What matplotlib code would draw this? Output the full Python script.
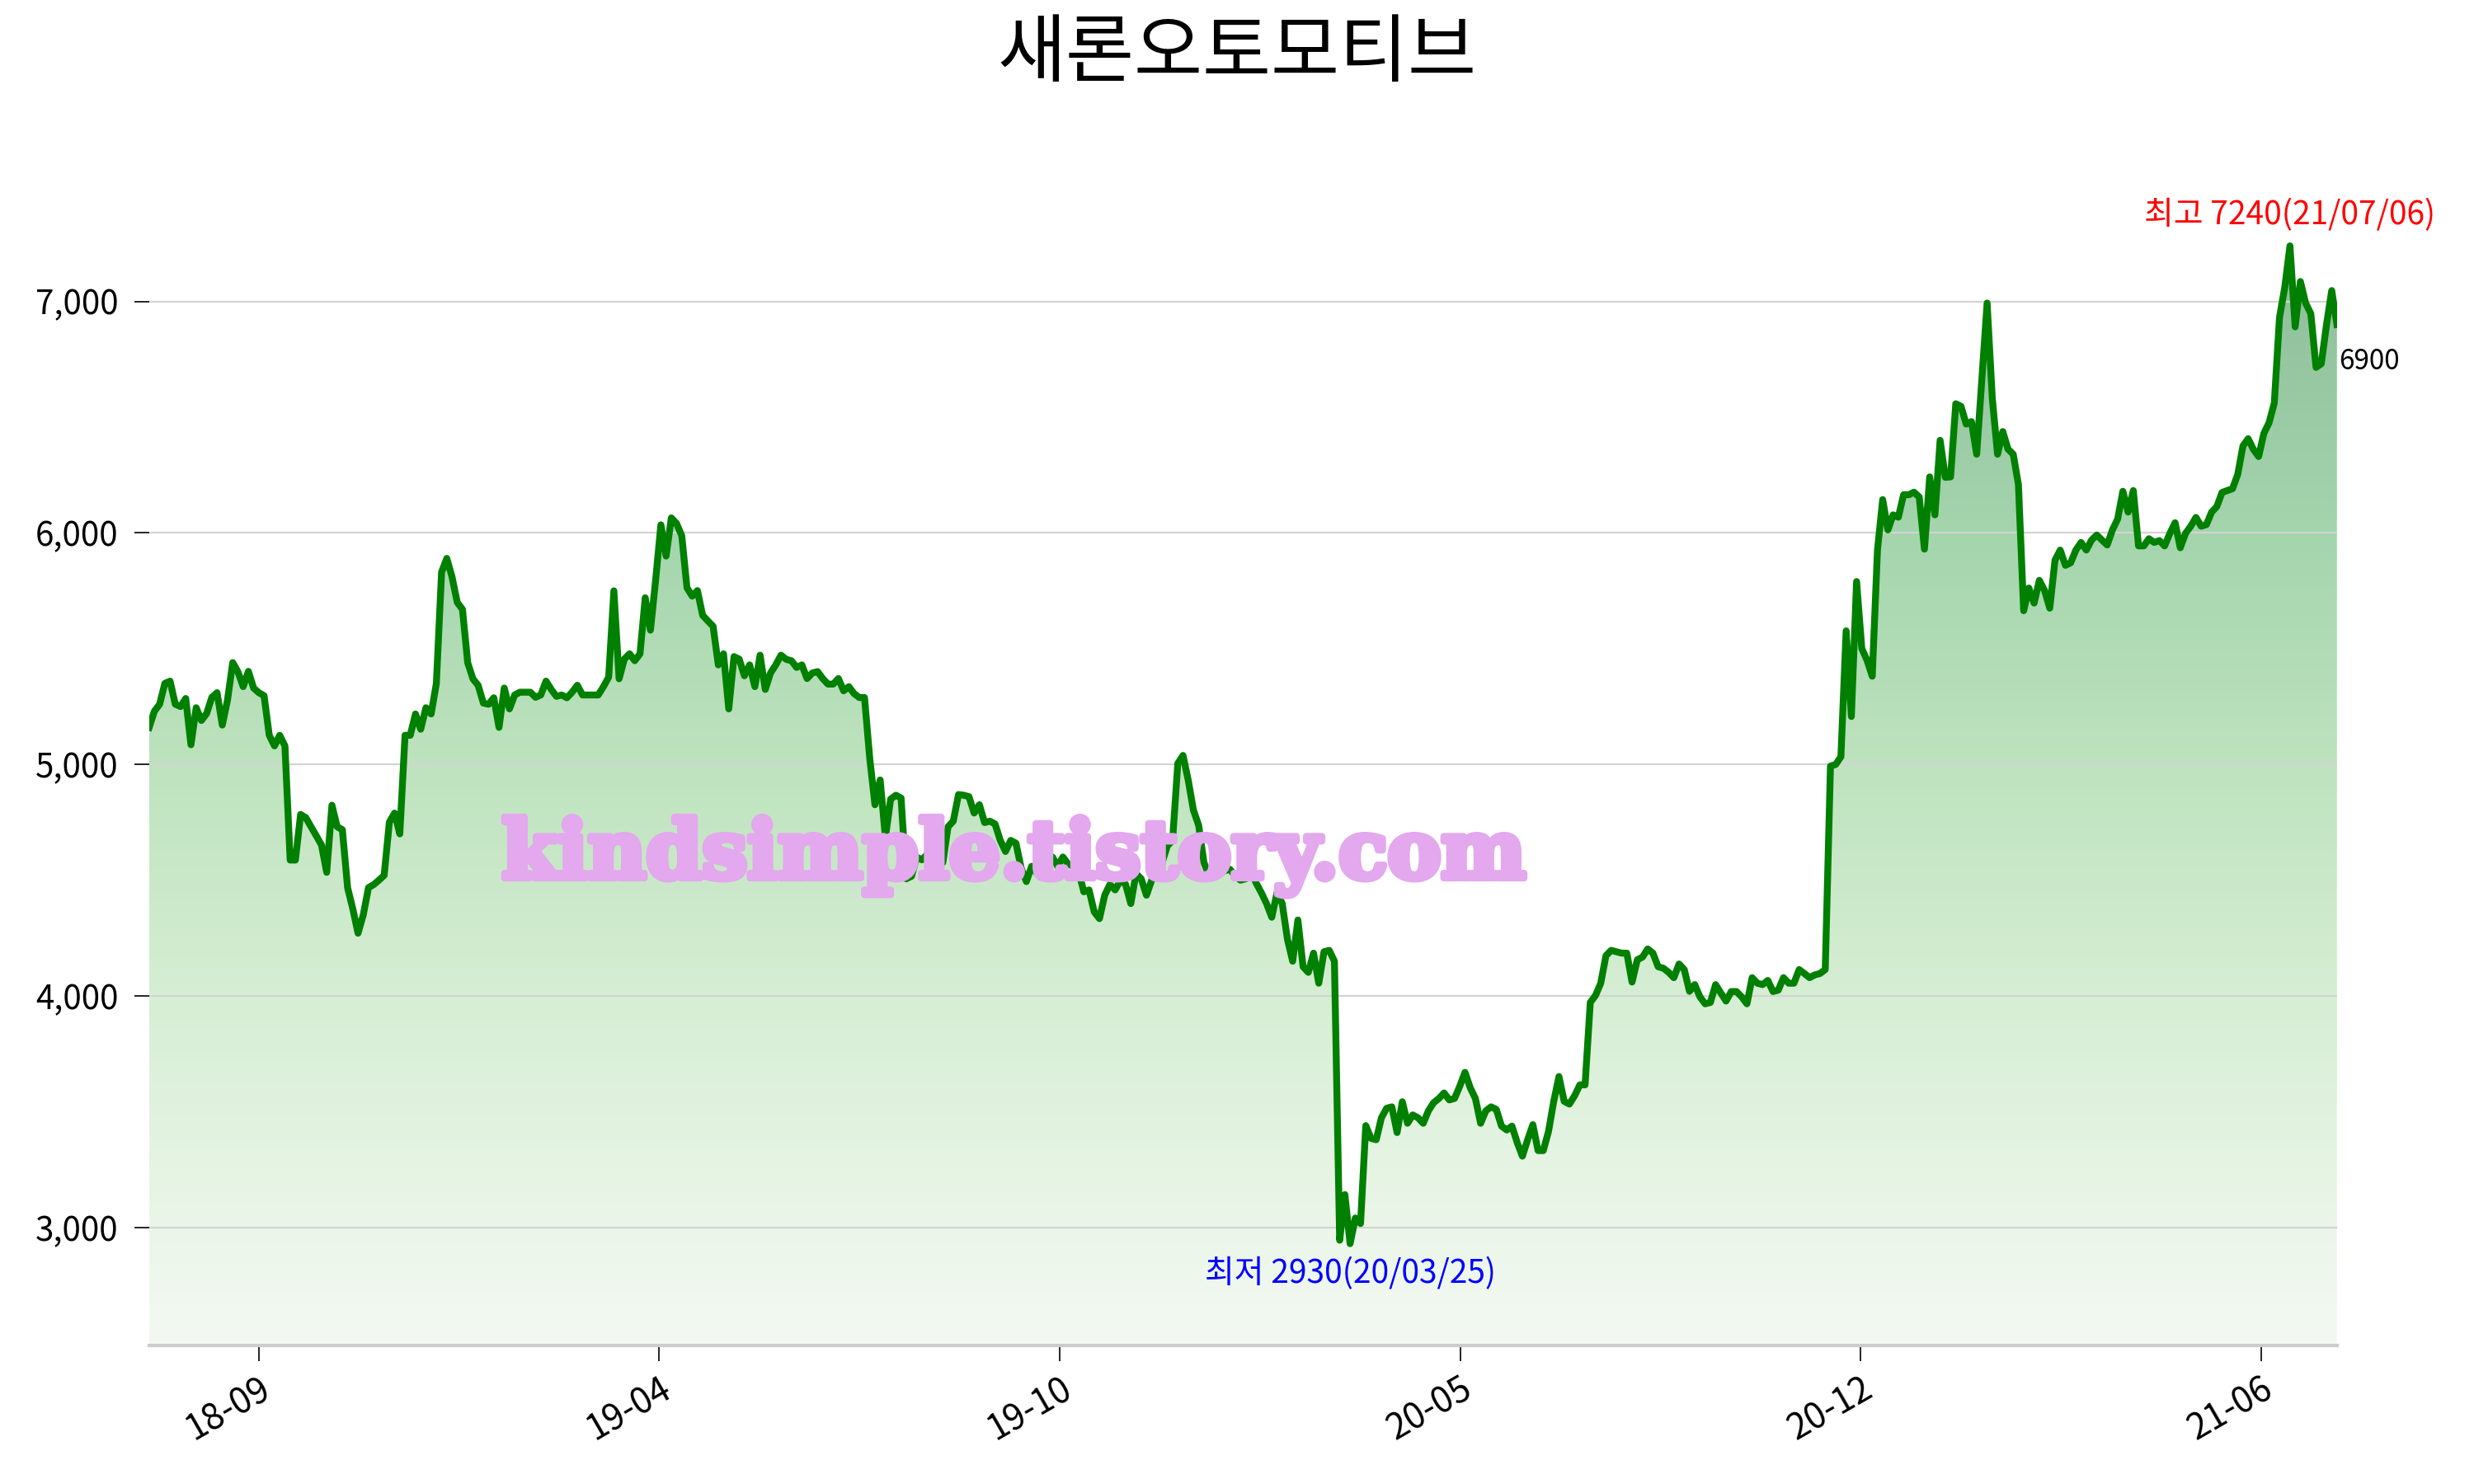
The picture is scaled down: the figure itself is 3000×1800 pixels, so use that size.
#Imports
import numpy as np
import matplotlib.pyplot as plt
import matplotlib.patheffects as pe
from matplotlib.colors import LinearSegmentedColormap
from matplotlib.patches import Polygon
from matplotlib.ticker import FuncFormatter

plt.rcParams['font.family'] = ['Noto Sans CJK KR', 'DejaVu Sans']

#Data (closing prices, roughly every other trading day)
title = '새론오토모티브'
close = [
    #2018-07 .. 2018-12
    5160, 5230, 5260, 5350, 5360, 5260, 5250, 5285, 5085, 5245, 5190, 5220, 5290, 5310, 5170,
    5278, 5440, 5400, 5336, 5402, 5330, 5310, 5297, 5126, 5080, 5126, 5080, 4587, 4587, 4784,
    4770, 4731, 4692, 4652, 4534, 4824, 4731, 4718, 4468, 4376, 4271, 4350, 4468, 4481, 4500,
    4521, 4751, 4790, 4700, 5126, 5126, 5218, 5152, 5245, 5218, 5350, 5830, 5890, 5810,
    #2019-01 .. 2019-06
    5700, 5670, 5440, 5370, 5342, 5265, 5260, 5288, 5160, 5330, 5240, 5300, 5312, 5312, 5312,
    5290, 5300, 5360, 5324, 5294, 5300, 5288, 5312, 5342, 5300, 5300, 5300, 5300, 5336, 5377,
    5750, 5370, 5455, 5478, 5448, 5478, 5720, 5580, 5798, 6035, 5900, 6065, 6041, 5988, 5763,
    5727, 5751, 5644, 5620, 5597, 5430, 5478, 5240, 5466, 5455,
    5383, 5430, 5336, 5472, 5324, 5395, 5430, 5472, 5454, 5448, 5419, 5430, 5371, 5395, 5401,
    5371, 5347, 5347, 5371, 5318, 5336, 5306, 5289, 5289, 5027, 4826, 4933, 4684, 4850, 4867,
    4855, 4506, 4517, 4600, 4588, 4612, 4624, 4600, 4576, 4731, 4755, 4870, 4867, 4861, 4790,
    4826, 4749, 4755, 4743, 4672, 4624, 4672, 4660, 4553, 4494,
    #2019-10 .. 2020-03
    4560, 4530, 4560, 4600, 4600, 4560, 4600, 4570, 4560, 4540, 4450, 4458, 4363, 4334, 4435,
    4482, 4458, 4500, 4482, 4399, 4529, 4506, 4435, 4500, 4553, 4577, 4648, 4672, 5004, 5039,
    4932, 4802, 4737, 4577, 4518, 4518, 4530, 4541, 4547, 4517, 4500, 4506, 4541, 4488, 4446,
    4399, 4340, 4446, 4399, 4245, 4150, 4328, 4126, 4102, 4185, 4055,
    4191, 4197, 4150, 2945, 3142, 2930, 3041, 3017, 3440, 3385, 3379, 3474, 3515, 3521, 3410,
    3543, 3450, 3486, 3474, 3450, 3504, 3539, 3557, 3581, 3551, 3557, 3610, 3670, 3604, 3557,
    3450, 3504, 3521, 3510, 3438, 3421, 3438, 3367, 3308, 3379, 3444, 3332, 3332, 3415, 3545,
    3652, 3545, 3533, 3569, 3616, 3616, 3972, 4002, 4055, 4174,
    #2020-07 .. 2020-11
    4197, 4191, 4185, 4185, 4060, 4156, 4168, 4203, 4185, 4126, 4120, 4102, 4079, 4138, 4114,
    4020, 4049, 3996, 3966, 3972, 4049, 4013, 3978, 4019, 4019, 3996, 3966, 4079, 4055, 4049,
    4067, 4019, 4025, 4079, 4055, 4055, 4114, 4097, 4079, 4091, 4097, 4114,
    #2020-11 .. 2021-03
    4993, 5000, 5033, 5577, 5207, 5790, 5501, 5450, 5381, 5926, 6144, 6013, 6078, 6068, 6165,
    6165, 6176, 6155, 5930, 6242, 6078, 6400, 6240, 6242, 6558, 6547, 6470, 6481, 6340, 6667,
    6993, 6580, 6340, 6438, 6362, 6340, 6209, 5664, 5762, 5697, 5795, 5752, 5675, 5882, 5926,
    5860, 5871, 5926, 5959, 5926, 5969, 5991, 5969, 5948, 6013, 6060,
    #2021-04 .. 2021-07
    6180, 6090, 6183, 5944, 5944, 5975, 5959, 5967, 5944, 5998, 6044, 5936, 5998, 6029, 6067,
    6029, 6036, 6090, 6114, 6175, 6183, 6191, 6253, 6376, 6407, 6361, 6330, 6430, 6476, 6561,
    6931, 7060, 7240, 6890, 7086, 6993, 6947, 6715, 6731, 6900, 7047, 6900,
]
high_date = '21/07/06'
low_date = '20/03/25'
tick_labels = ['18-09', '19-04', '19-10', '20-05', '20-12', '21-06']
watermark = 'kindsimple.tistory.com'

close = np.array(close, dtype=float)
n = len(close)
x = np.arange(n)
ybot = 2490
ytop = 7602

fig = plt.figure(figsize=(15, 9), dpi=200)
ax = fig.add_axes([0.0603, 0.0933, 0.8843, 0.7975])

#Gradient fill under the line
gmax = close.max()
stops = [(2490, '#f3f9f2'), (3000, '#ebf6e9'), (4000, '#d6eed4'),
         (5000, '#bee3be'), (6000, '#a4d5ad'), (7240, '#8cbd99')]
cmap = LinearSegmentedColormap.from_list('fillg', [((v - ybot) / (gmax - ybot), c) for v, c in stops])
grad = np.linspace(0, 1, 512).reshape(-1, 1)
img = ax.imshow(grad, extent=[0, n - 1, ybot, gmax], origin='lower', aspect='auto',
                cmap=cmap, zorder=1, interpolation='bilinear')
verts = np.vstack([[0, ybot], np.column_stack([x, close]), [n - 1, ybot]])
patch = Polygon(verts, closed=True, facecolor='none', edgecolor='none')
ax.add_patch(patch)
img.set_clip_path(patch)

#Line
ax.plot(x, close, color='#008000', lw=3, zorder=3)

ax.set_xlim(0, n - 1)
ax.set_ylim(ybot, ytop)

#Axes styling
ax.set_yticks([3000, 4000, 5000, 6000, 7000])
ax.yaxis.set_major_formatter(FuncFormatter(lambda v, p: '{:,.0f}'.format(v)))
ax.yaxis.grid(True, color='#d3d3d3', lw=0.8)
ax.set_xticks(21 + 76.7 * np.arange(len(tick_labels)))
ax.set_xticklabels(tick_labels, rotation=30, ha='right', rotation_mode='anchor')
ax.tick_params(axis='x', length=7, width=0.6, pad=4, labelsize=15.5)
ax.tick_params(axis='y', length=6.5, width=0.6, pad=7, labelsize=14.5)
for s in ['top', 'right', 'left']:
    ax.spines[s].set_visible(False)
ax.spines['bottom'].set_color('#cccccc')
ax.spines['bottom'].set_linewidth(1.5)

#Annotations
ih = int(np.argmax(close))
il = int(np.argmin(close))
ax.annotate('최고 {:.0f}({})'.format(close[ih], high_date), (ih, close[ih]), xytext=(0, 6),
            textcoords='offset points', ha='center', va='bottom', color='red', fontsize=14)
ax.annotate('최저 {:.0f}({})'.format(close[il], low_date), (il, close[il]), xytext=(0, -6),
            textcoords='offset points', ha='center', va='top', color='blue', fontsize=14)
ax.annotate('{:.0f}'.format(close[-1]), (n - 1, close[-1]), xytext=(1, -10),
            textcoords='offset points', ha='left', va='top', color='black', fontsize=12)

#Title and watermark
fig.text(0.5, 1 - 67 / 1800, title, fontsize=32.5, ha='center', va='center')
fig.text(0.41, 0.4228, watermark, fontsize=35, family='DejaVu Serif', weight='bold',
         color='#e3a8ee', ha='center', va='center', zorder=10,
         path_effects=[pe.withStroke(linewidth=3, foreground='#e3a8ee')])

fig.savefig('out.png', dpi=200)
